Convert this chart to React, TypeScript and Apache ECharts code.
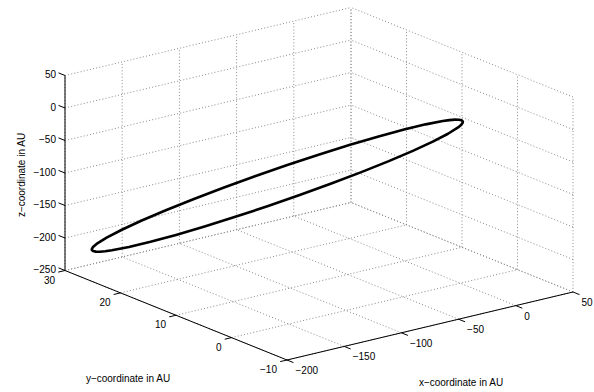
import React, { useEffect, useRef } from "react";
import * as echarts from "echarts";

// Axis tick values
const xTicks = [-200, -150, -100, -50, 0, 50];
const yTicks = [-10, 0, 10, 20, 30];
const zTicks = [-250, -200, -150, -100, -50, 0, 50];

// Axis titles
const xTitle = "x\u2212coordinate in AU";
const yTitle = "y\u2212coordinate in AU";
const zTitle = "z\u2212coordinate in AU";

// Orbit samples (AU)
const orbitX = [0.6, 0.26, -0.8, -2.58, -5.06, -12.04, -21.53, -33.24, -46.83, -61.87, -77.9, -94.44, -110.98, -127.05, -142.13, -155.76, -167.53, -177.1, -184.16, -186.68, -188.51, -189.62, -190.0, -189.66, -188.6, -186.82, -184.34, -177.36, -167.87, -156.16, -142.58, -127.53, -111.49, -94.96, -78.42, -62.35, -47.28, -33.64, -21.87, -12.3, -5.24, -2.72, -0.89, 0.22];
const orbitY = [-0.1, 0.31, 0.81, 1.42, 2.11, 3.76, 5.69, 7.87, 10.21, 12.65, 15.12, 17.53, 19.82, 21.92, 23.76, 25.29, 26.45, 27.22, 27.58, 27.59, 27.5, 27.31, 27.0, 26.59, 26.09, 25.48, 24.79, 23.14, 21.21, 19.04, 16.69, 14.25, 11.78, 9.37, 7.08, 4.98, 3.14, 1.62, 0.45, -0.32, -0.68, -0.69, -0.6, -0.41];
const orbitZ = [0.75, 0.37, -0.83, -2.83, -5.62, -13.49, -24.18, -37.38, -52.67, -69.62, -87.68, -106.31, -124.95, -143.04, -160.02, -175.38, -188.64, -199.43, -207.38, -210.22, -212.27, -213.52, -213.95, -213.56, -212.37, -210.37, -207.58, -199.72, -189.02, -175.82, -160.53, -143.58, -125.53, -106.89, -88.25, -70.16, -53.18, -37.82, -24.56, -13.78, -5.82, -2.99, -0.93, 0.32];

const FONT_FAMILY = '"Liberation Sans", Arial, Helvetica, sans-serif';

function fmt(v: number): string {
  return v < 0 ? "\u2212" + Math.abs(v) : String(v);
}

export default function App() {
  const ref = useRef<HTMLDivElement>(null);

  useEffect(() => {
    document.body.style.margin = "0";
    const chart = echarts.init(ref.current!, null, { renderer: "svg" });

    const xMin = xTicks[0], xMax = xTicks[xTicks.length - 1];
    const yMin = yTicks[0], yMax = yTicks[yTicks.length - 1];
    const zMin = zTicks[0], zMax = zTicks[zTicks.length - 1];

    // Projection layout: screen corner for (xMin, yMin, zMin) and full-range axis vectors
    const O = [287, 360];
    const VX = [286, -68];
    const VY = [-222, -89.5];
    const VZ = [0, -195];

    const P = (x: number, y: number, z: number): number[] => {
      const fx = (x - xMin) / (xMax - xMin);
      const fy = (y - yMin) / (yMax - yMin);
      const fz = (z - zMin) / (zMax - zMin);
      return [
        O[0] + fx * VX[0] + fy * VY[0] + fz * VZ[0],
        O[1] + fx * VX[1] + fy * VY[1] + fz * VZ[1],
      ];
    };
    const norm = (v: number[]) => {
      const l = Math.hypot(v[0], v[1]);
      return [v[0] / l, v[1] / l];
    };
    const ux = norm(VX);
    const uy = norm(VY);
    const TICK = 7;

    const gridStyle = { stroke: "#8a8a8a", lineWidth: 1, lineDash: [1, 2.2] };
    const axisStyle = { stroke: "#000", lineWidth: 1 };

    const seg = (a: number[], b: number[], style: any) => ({
      type: "line",
      silent: true,
      shape: { x1: a[0], y1: a[1], x2: b[0], y2: b[1] },
      style,
    });

    const grid: any[] = [];
    // back wall (y = yMax)
    xTicks.forEach((x) => grid.push(seg(P(x, yMax, zMin), P(x, yMax, zMax), gridStyle)));
    zTicks.forEach((z) => grid.push(seg(P(xMin, yMax, z), P(xMax, yMax, z), gridStyle)));
    // side wall (x = xMax)
    yTicks.forEach((y) => grid.push(seg(P(xMax, y, zMin), P(xMax, y, zMax), gridStyle)));
    zTicks.forEach((z) => grid.push(seg(P(xMax, yMin, z), P(xMax, yMax, z), gridStyle)));
    // floor (z = zMin)
    xTicks.forEach((x) => grid.push(seg(P(x, yMin, zMin), P(x, yMax, zMin), gridStyle)));
    yTicks.forEach((y) => grid.push(seg(P(xMin, y, zMin), P(xMax, y, zMin), gridStyle)));

    const axes: any[] = [];
    axes.push(seg(P(xMin, yMax, zMin), P(xMin, yMax, zMax), axisStyle));
    axes.push(seg(P(xMin, yMin, zMin), P(xMin, yMax, zMin), axisStyle));
    axes.push(seg(P(xMin, yMin, zMin), P(xMax, yMin, zMin), axisStyle));

    const label = (text: string, x: number, y: number, align: string, extra: any = {}) => ({
      type: "text",
      silent: true,
      x,
      y,
      ...extra,
      style: {
        text,
        fill: "#000",
        fontSize: 10,
        fontFamily: FONT_FAMILY,
        align,
        verticalAlign: "middle",
      },
    });

    zTicks.forEach((z) => {
      const a = P(xMin, yMax, z);
      axes.push(seg(a, [a[0] + uy[0] * TICK, a[1] + uy[1] * TICK], axisStyle));
      axes.push(label(fmt(z), a[0] - 9, a[1] - 1, "right"));
    });
    yTicks.forEach((y) => {
      const a = P(xMin, y, zMin);
      axes.push(seg(a, [a[0] - ux[0] * TICK, a[1] - ux[1] * TICK], axisStyle));
      axes.push(label(fmt(y), a[0] - 10, a[1] + 9.5, "right"));
    });
    xTicks.forEach((x) => {
      const a = P(x, yMin, zMin);
      axes.push(seg(a, [a[0] - uy[0] * TICK, a[1] - uy[1] * TICK], axisStyle));
      axes.push(label(fmt(x), a[0] + 8.5, a[1] + 10.5, "left"));
    });

    axes.push(label(xTitle, 461, 382, "center"));
    axes.push(label(yTitle, 128, 378, "center"));
    axes.push(label(zTitle, 21, 175, "center", { rotation: Math.PI / 2 }));

    const orbitPts = orbitX.map((x, i) => P(x, orbitY[i], orbitZ[i]));

    chart.setOption({
      animation: false,
      backgroundColor: "#fff",
      series: [
        {
          type: "custom",
          coordinateSystem: "none",
          silent: true,
          data: [0],
          z: 1,
          renderItem: () => ({ type: "group", children: grid }),
        },
        {
          type: "custom",
          coordinateSystem: "none",
          silent: true,
          data: [0],
          z: 2,
          renderItem: () => ({
            type: "polygon",
            shape: { points: orbitPts },
            style: { stroke: "#000", fill: "none", lineWidth: 2.6, lineJoin: "round" },
          }),
        },
        {
          type: "custom",
          coordinateSystem: "none",
          silent: true,
          data: [0],
          z: 3,
          renderItem: () => ({ type: "group", children: axes }),
        },
      ],
    });

    return () => chart.dispose();
  }, []);

  return <div ref={ref} style={{ width: 594, height: 392 }} />;
}
